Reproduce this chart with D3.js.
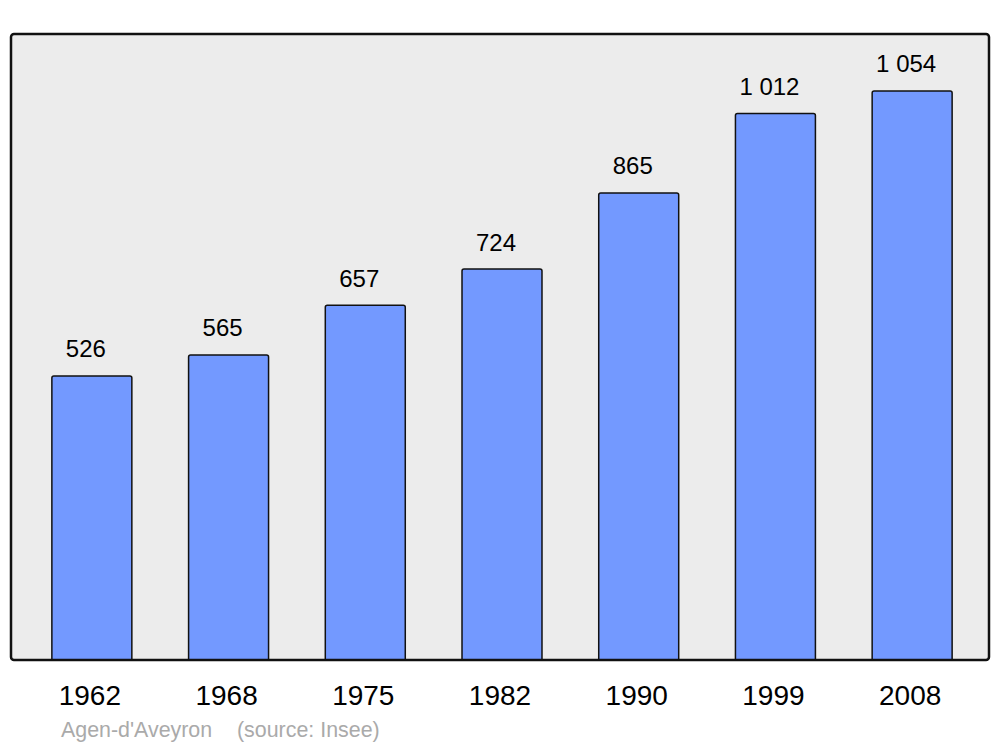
<!DOCTYPE html>
<html>
<head>
<meta charset="utf-8">
<script src="https://cdn.jsdelivr.net/npm/d3@7"></script>
<style>
  html, body { margin: 0; padding: 0; background: #fff; }
  svg { display: block; }
  text { font-family: "Liberation Sans", Arial, sans-serif; }
</style>
</head>
<body>
<svg id="chart" width="1000" height="747"></svg>
<script>
const years = ["1962", "1968", "1975", "1982", "1990", "1999", "2008"];
const population = [526, 565, 657, 724, 865, 1012, 1054];
const valueLabels = ["526", "565", "657", "724", "865", "1 012", "1 054"];
const place = "Agen-d'Aveyron";
const source = "(source: Insee)";

const svg = d3.select("#chart");
const panel = { x0: 11, y0: 34, x1: 989, y1: 660 };

svg.append("defs").append("clipPath").attr("id", "pclip")
  .append("rect")
  .attr("x", panel.x0).attr("y", panel.y0)
  .attr("width", panel.x1 - panel.x0).attr("height", panel.y1 - panel.y0);

svg.append("rect")
  .attr("x", panel.x0).attr("y", panel.y0)
  .attr("width", panel.x1 - panel.x0).attr("height", panel.y1 - panel.y0)
  .attr("rx", 3).attr("ry", 3)
  .attr("fill", "#ececec");

const x = d3.scaleBand()
  .domain(years)
  .range([23.5, 980.5])
  .paddingInner(0.415)
  .paddingOuter(0.2075);

const y = d3.scaleLinear()
  .domain([0, d3.max(population) * 1.1])
  .range([panel.y1, panel.y0]);

const data = years.map((yr, i) => ({ yr, v: population[i], lab: valueLabels[i] }));

svg.append("g").attr("clip-path", "url(#pclip)").selectAll("rect")
  .data(data).join("rect")
  .attr("x", d => x(d.yr))
  .attr("y", d => y(d.v))
  .attr("width", x.bandwidth())
  .attr("height", d => y(0) - y(d.v) + 3)
  .attr("rx", 2).attr("ry", 2)
  .attr("fill", "#7399ff")
  .attr("stroke", "#111")
  .attr("stroke-width", 1.5);

svg.append("g").selectAll("text")
  .data(data).join("text")
  .attr("x", d => x(d.yr) + x.bandwidth() / 2 - 6)
  .attr("y", d => y(d.v) - 18.5)
  .attr("text-anchor", "middle")
  .attr("font-size", 24)
  .attr("fill", "#000")
  .text(d => d.lab);

// panel border on top
svg.append("rect")
  .attr("x", panel.x0).attr("y", panel.y0)
  .attr("width", panel.x1 - panel.x0).attr("height", panel.y1 - panel.y0)
  .attr("rx", 3).attr("ry", 3)
  .attr("fill", "none")
  .attr("stroke", "#111")
  .attr("stroke-width", 2.5);

// x axis labels
const xAxis = d3.axisBottom(x).tickSize(0).tickPadding(0);
const gx = svg.append("g")
  .attr("transform", `translate(-2,${panel.y1})`)
  .call(xAxis);
gx.select(".domain").remove();
gx.selectAll("text")
  .attr("y", 0)
  .attr("dy", 0)
  .attr("transform", "translate(0,45)")
  .attr("font-size", 28)
  .attr("font-family", "Liberation Sans, Arial, sans-serif")
  .attr("fill", "#000");

svg.append("text")
  .attr("x", 61).attr("y", 737)
  .attr("font-size", 21.4)
  .attr("fill", "#aaaaaa")
  .text(place);
svg.append("text")
  .attr("x", 237).attr("y", 737)
  .attr("font-size", 21.4)
  .attr("fill", "#aaaaaa")
  .text(source);
</script>
</body>
</html>
